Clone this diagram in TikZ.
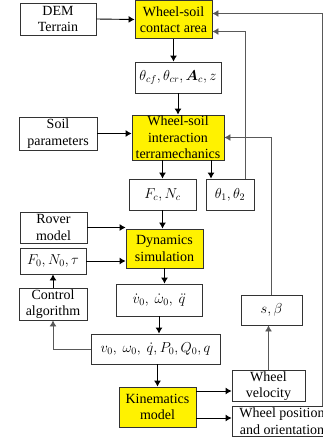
\documentclass[tikz,border=0pt]{standalone}
\usepackage{fontspec}
\setmainfont{Liberation Serif}
\usepackage{bm}
\usetikzlibrary{arrows.meta}

\begin{document}
\begin{tikzpicture}[x=1pt, y=-1pt,
    every node/.style={font=\fontsize{14}{16.5}\selectfont},
    blk/.style={rectangle, draw=black!80, line width=0.9pt, align=center, inner sep=1pt, fill=white},
    core/.style={blk, fill=yellow},
    arrow/.style={-{Latex[length=6pt, width=7pt]}, line width=0.9pt},
    fb/.style={-{Latex[length=6pt, width=7pt]}, line width=0.9pt, draw=black!65}]

  \useasboundingbox (0,0) rectangle (323,439);

  % main chain
  \node[core, minimum width=77pt, minimum height=38pt] (contact) at (173.5,19.5) {Wheel-soil\\contact area};
  \node[blk, minimum width=86pt, minimum height=31pt] (theta) at (178,77.5) {$\theta_{cf}, \theta_{cr}, \bm{A}_c, z$};
  \node[core, minimum width=92pt, minimum height=45pt] (inter) at (178,137.5) {Wheel-soil\\interaction\\terramechanics};
  \node[blk, minimum width=67pt, minimum height=31pt] (force) at (162.5,194.5) {$F_c, N_c$};
  \node[blk, minimum width=48pt, minimum height=31pt] (angles) at (230,194.5) {$\theta_1, \theta_2$};
  \node[core, minimum width=77pt, minimum height=39pt] (dyn) at (164.5,248.5) {Dynamics\\simulation};
  \node[blk, minimum width=86pt, minimum height=32pt] (acc) at (159,300) {$\dot v_0,\ \dot\omega_0,\ \ddot q$};
  \node[blk, minimum width=129pt, minimum height=30pt] (state) at (155.5,349) {$v_0,\ \omega_0,\ \dot q, P_0, Q_0, q$};
  \node[core, minimum width=77pt, minimum height=40pt] (kin) at (157.5,407) {Kinematics\\model};

  % inputs on the left
  \node[blk, minimum width=76pt, minimum height=32pt] (dem) at (58,19) {DEM\\Terrain};
  \node[blk, minimum width=78pt, minimum height=33pt] (soil) at (58,133.5) {Soil\\parameters};
  \node[blk, minimum width=67pt, minimum height=31pt] (rover) at (53.5,227.5) {Rover\\model};
  \node[blk, minimum width=66pt, minimum height=26pt] (fnt) at (53,261) {$F_0, N_0, \tau$};
  \node[blk, minimum width=68pt, minimum height=32pt] (ctrl) at (53,304) {Control\\algorithm};

  % outputs on the right
  \node[blk, minimum width=61pt, minimum height=30pt] (slip) at (271.5,310) {$s, \beta$};
  \node[blk, minimum width=73pt, minimum height=30pt] (wvel) at (268.5,386) {Wheel\\velocity};
  \node[blk, minimum width=100pt, minimum height=30pt] (wpos) at (282,421) {Wheel position\\and orientation};

  \draw[arrow] (dem.east) -- (contact.west);
  \draw[arrow] (contact.south) -- (contact.south |- theta.north);
  \draw[arrow] (theta.south) -- (theta.south |- inter.north);
  \draw[arrow] (soil.east) -- (soil.east -| inter.west);
  \draw[arrow] (force.north |- inter.south) -- (force.north);
  \draw[arrow] ([xshift=-19pt]angles.north |- inter.south) -- ([xshift=-19pt]angles.north);
  \draw[arrow] (force.south) -- (force.south |- dyn.north);
  \draw[arrow] (rover.east) -- (rover.east -| dyn.west);
  \draw[arrow] (fnt.east) -- (fnt.east -| dyn.west);
  \draw[arrow] (ctrl.north) -- (fnt.south);
  \draw[arrow] (dyn.south) -- (dyn.south |- acc.north);
  \draw[arrow] (acc.south) -- (acc.south |- state.north);
  \draw[fb] (state.west) -| (ctrl.south);
  \draw[arrow] (kin.north |- state.south) -- (kin.north);
  \draw[arrow] ([yshift=16pt]kin.east) -- ([yshift=16pt]kin.east -| wvel.west);
  \draw[arrow] ([yshift=-11pt]kin.east) -- ([yshift=-11pt]kin.east -| wpos.west);

  % feedback
  \draw[fb] (wvel.north) -- (wvel.north |- slip.south);
  \draw[fb] (slip.north) |- (inter.east);
  \draw[fb] ([xshift=15pt]angles.north) |- ([yshift=-12pt]contact.east);
  \draw[fb] ([xshift=40pt]wpos.north) |- ([yshift=6pt]contact.east);
\end{tikzpicture}
\end{document}
